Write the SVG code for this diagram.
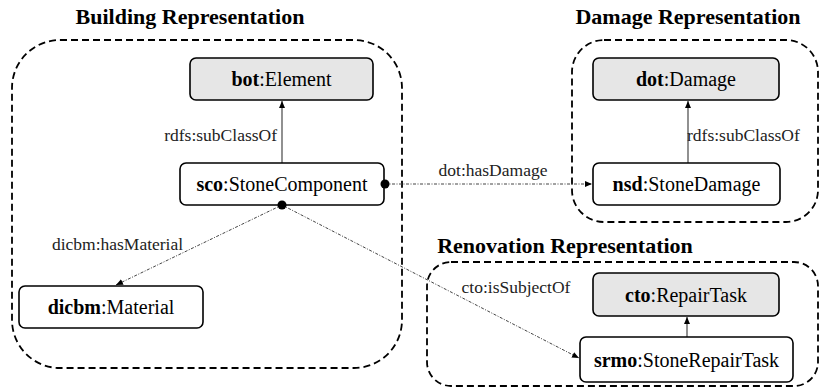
<svg xmlns="http://www.w3.org/2000/svg" width="821" height="389" viewBox="0 0 821 389">
<defs>
<style>
.cont{fill:none;stroke:#000;stroke-width:1.8;stroke-dasharray:7 4}
.node{stroke:#000;stroke-width:1.6;fill:#fff}
.gray{fill:#e6e6e6}
.sub{stroke:#555;stroke-width:1.3;fill:none}
.prop{stroke:#444;stroke-width:1;fill:none;stroke-dasharray:3 1.5 1 1.5}
</style>
<marker id="ah" markerWidth="8" markerHeight="8" refX="7" refY="4" orient="auto" markerUnits="userSpaceOnUse">
<path d="M0,1 L7,4 L0,7 Z" fill="#000"/>
</marker>
</defs>
<rect width="821" height="389" fill="#fff"/>

<g font-family="'Liberation Serif', 'Times New Roman', Times, serif">
<g id="building-container">
<rect class="cont" x="12" y="40" width="390" height="328" rx="48" ry="48"/>
<text x="190" y="24" font-weight="bold" font-size="22" text-anchor="middle">Building Representation</text>
</g>
<g id="damage-container">
<rect class="cont" x="572" y="40" width="246" height="182" rx="32" ry="32"/>
<text x="688" y="24" font-weight="bold" font-size="22" text-anchor="middle">Damage Representation</text>
</g>
<g id="renovation-container">
<rect class="cont" x="427" y="262" width="391" height="124" rx="24" ry="24"/>
<text x="565" y="253" font-weight="bold" font-size="22" text-anchor="middle">Renovation Representation</text>
</g>

<g id="connectors" font-size="17.5" fill="#222">
<line class="sub" x1="282" y1="163" x2="282" y2="101" marker-end="url(#ah)"/>
<text x="277" y="141" text-anchor="end">rdfs:subClassOf</text>
<line class="sub" x1="688" y1="163" x2="688" y2="101" marker-end="url(#ah)"/>
<text x="687" y="141">rdfs:subClassOf</text>
<line class="sub" x1="687" y1="337" x2="687" y2="317" marker-end="url(#ah)"/>
<line class="prop" x1="385" y1="184" x2="592" y2="184" marker-end="url(#ah)"/>
<text x="493" y="176" text-anchor="middle">dot:hasDamage</text>
<line class="prop" x1="282" y1="205" x2="116" y2="285" marker-end="url(#ah)"/>
<text x="117.5" y="250" text-anchor="middle">dicbm:hasMaterial</text>
<line class="prop" x1="282" y1="205" x2="579" y2="358" marker-end="url(#ah)"/>
<text x="516" y="293" text-anchor="middle">cto:isSubjectOf</text>
</g>

<g font-size="20" text-anchor="middle">
<g id="bot-element">
<rect class="node gray" x="190" y="58" width="183" height="42" rx="6"/>
<text x="281.5" y="86"><tspan font-weight="bold">bot</tspan>:Element</text>
</g>
<g id="sco-stonecomponent">
<rect class="node" x="180" y="163" width="204" height="42" rx="6"/>
<text x="282" y="191"><tspan font-weight="bold">sco</tspan>:StoneComponent</text>
<circle cx="385" cy="184" r="4.5" fill="#000"/>
<circle cx="282" cy="205" r="4.5" fill="#000"/>
</g>
<g id="dicbm-material">
<rect class="node" x="19" y="286" width="184" height="42" rx="6"/>
<text x="111" y="314"><tspan font-weight="bold">dicbm</tspan>:Material</text>
</g>
<g id="dot-damage">
<rect class="node gray" x="593" y="58" width="186" height="42" rx="6"/>
<text x="686" y="86"><tspan font-weight="bold">dot</tspan>:Damage</text>
</g>
<g id="nsd-stonedamage">
<rect class="node" x="593" y="163" width="187" height="42" rx="6"/>
<text x="686.5" y="191"><tspan font-weight="bold">nsd</tspan>:StoneDamage</text>
</g>
<g id="cto-repairtask">
<rect class="node gray" x="593" y="273" width="186" height="43" rx="6"/>
<text x="686" y="301.5"><tspan font-weight="bold">cto</tspan>:RepairTask</text>
</g>
<g id="srmo-stonerepairtask">
<rect class="node" x="580" y="337" width="213" height="45" rx="6"/>
<text x="686.5" y="366.5"><tspan font-weight="bold">srmo</tspan>:StoneRepairTask</text>
</g>
</g>
</g>
</svg>
